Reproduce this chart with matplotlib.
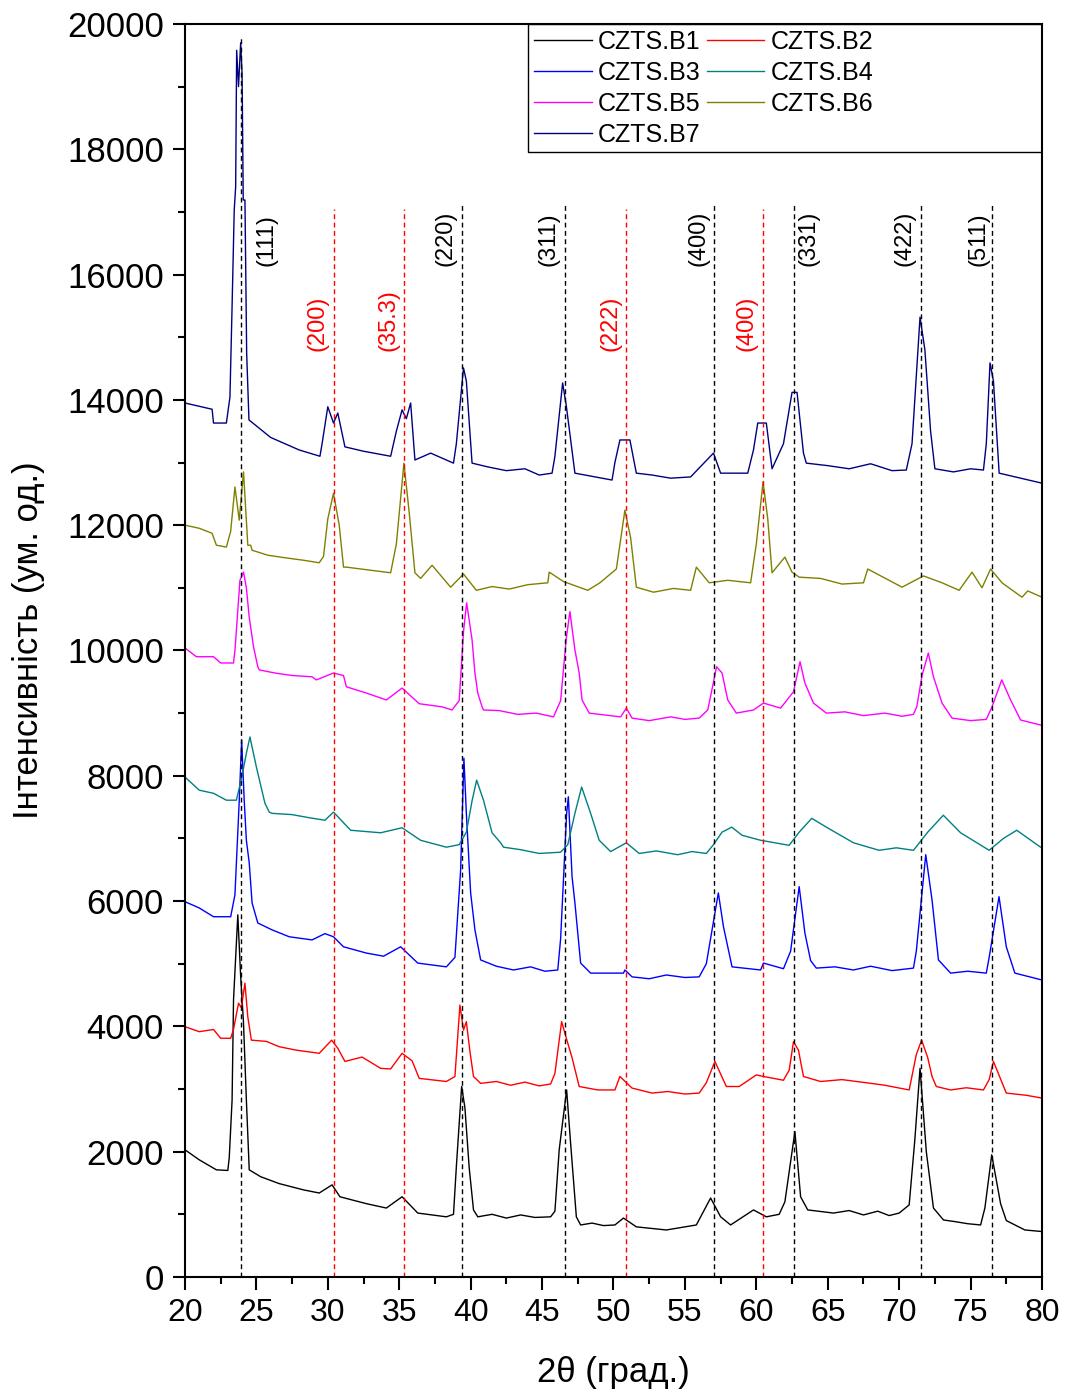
import matplotlib
matplotlib.use("Agg")
import matplotlib.pyplot as plt
from matplotlib.ticker import MultipleLocator
from matplotlib.patches import Rectangle

plt.rcParams["font.family"] = ["Liberation Sans", "DejaVu Sans"]

# ============================================
# 1. Data (2theta, intensity)
#    (extra baseline readings are appended at the end of each list)
# ============================================

b1_pts = [(20, 2030), (21, 1870), (22.2, 1710), (23.0, 1700), (23.1, 1900), (23.3, 2825),
          (23.4, 4420), (23.55, 5100), (23.7, 5780), (23.9, 4800), (24.1, 4050), (24.3, 2825),
          (24.5, 1710), (25.3, 1600), (26.6, 1490), (28.3, 1390), (29.4, 1340), (30.3, 1470),
          (30.85, 1280), (32.7, 1170), (34.1, 1100), (35.2, 1280), (36.3, 1020), (38.3, 960),
          (38.8, 1000), (39.0, 1760), (39.37, 3040), (39.6, 2700), (39.9, 1740), (40.2, 1070),
          (40.5, 960), (45.6, 960), (45.9, 1050), (46.2, 2030), (46.72, 2985), (47.0, 2130),
          (47.4, 960), (47.7, 830), (50.1, 830), (50.7, 940), (51.6, 800), (53.7, 750),
          (55.8, 830), (56.8, 1260), (57.5, 960), (58.2, 830), (59.8, 1070), (60.7, 960),
          (61.6, 1000), (62.0, 1200), (62.7, 2320), (63.1, 1280), (63.6, 1070), (65.4, 1020),
          (70.0, 1020), (70.7, 1150), (71.1, 2200), (71.46, 3330), (71.9, 2000), (72.4, 1100),
          (73.1, 910), (75.7, 830), (76.0, 1100), (76.48, 1950), (77.1, 1170), (77.5, 900),
          (78.8, 750), (80, 725),
          (41.5, 1000), (42.5, 940), (43.5, 990), (44.5, 950), (48.5, 860), (49.3, 820),
          (66.5, 1060), (67.5, 990), (68.5, 1050), (69.3, 980), (74.0, 880), (74.8, 850)]

b2_pts = [(20, 3995), (21, 3915), (22, 3950), (22.5, 3810), (23.2, 3810), (23.4, 3950),
          (23.75, 4370), (23.95, 4300), (24.2, 4690), (24.4, 4150), (24.65, 3780), (25.7, 3760),
          (26.6, 3675), (27.8, 3620), (29.4, 3570), (30.27, 3780), (30.7, 3650), (31.2, 3440),
          (32.4, 3510), (33.7, 3330), (34.4, 3320), (35.2, 3570), (35.9, 3450), (36.4, 3170),
          (38.3, 3120), (38.9, 3200), (39.25, 4340), (39.5, 3940), (39.7, 4075), (39.95, 3600),
          (40.2, 3200), (40.7, 3090), (45.6, 3080), (45.9, 3250), (46.37, 4075), (46.7, 3810),
          (47.1, 3500), (47.6, 3040), (48.9, 2985), (50.1, 2985), (50.45, 3200), (51.3, 3015),
          (52.7, 2935), (56.0, 2935), (56.5, 3100), (57.1, 3440), (57.9, 3040), (58.8, 3040),
          (60.0, 3225), (60.5, 3200), (61.9, 3140), (62.3, 3300), (62.6, 3755), (62.95, 3620),
          (63.3, 3200), (64.5, 3120), (67.7, 3100), (70.7, 2985), (71.2, 3550), (71.57, 3780),
          (72.0, 3500), (72.3, 3200), (72.6, 3040), (73.6, 2985), (75.9, 2985), (76.3, 3150),
          (76.6, 3440), (77.5, 2935), (78.9, 2900), (80, 2855),
          (41.8, 3120), (42.8, 3060), (43.8, 3110), (44.8, 3050), (53.8, 2960), (55.0, 2920),
          (66.0, 3150), (69.0, 3060), (74.7, 3020)]

b3_pts = [(20, 5990), (21, 5890), (22, 5750), (23.2, 5750), (23.5, 6100), (23.8, 7600),
          (23.97, 8570), (24.15, 7600), (24.3, 6970), (24.5, 6610), (24.7, 5970), (25.1, 5650),
          (26.1, 5540), (27.3, 5430), (28.9, 5380), (29.8, 5480), (30.4, 5430), (31.1, 5270),
          (32.7, 5170), (33.9, 5120), (35.1, 5270), (36.3, 5010), (38.3, 4950), (38.9, 5100),
          (39.3, 6500), (39.53, 8280), (39.7, 7400), (40.0, 6130), (40.3, 5540), (40.7, 5060),
          (46.1, 4900), (46.3, 5400), (46.72, 7400), (46.84, 7665), (47.1, 6390), (47.3, 5970),
          (47.7, 5010), (48.4, 4850), (50.7, 4850), (50.8, 4900), (51.3, 4790), (56.0, 4790),
          (56.5, 5000), (57.34, 6130), (57.7, 5590), (58.3, 4950), (60.3, 4900), (60.5, 5010),
          (61.9, 4920), (62.4, 5200), (63.0, 6230), (63.4, 5490), (63.8, 5050), (64.2, 4930),
          (71.0, 4930), (71.2, 5200), (71.86, 6740), (72.3, 6020), (72.75, 5060), (73.6, 4850),
          (76.1, 4850), (76.3, 5100), (76.99, 6070), (77.5, 5270), (78.1, 4850), (80, 4740),
          (41.8, 4960), (43.0, 4900), (44.2, 4950), (45.2, 4880), (52.5, 4760), (53.7, 4820),
          (55.0, 4780), (65.5, 4950), (66.8, 4900), (68.0, 4960), (69.5, 4890), (74.8, 4880)]

b4_pts = [(20, 7980), (21, 7770), (22, 7720), (22.9, 7610), (23.6, 7610), (24.0, 8000),
          (24.3, 8360), (24.55, 8620), (25.0, 8140), (25.6, 7560), (25.9, 7420), (26.1, 7400),
          (29.8, 7290), (30.4, 7420), (31.6, 7130), (33.7, 7090), (35.2, 7170), (36.5, 6970),
          (38.3, 6860), (39.2, 6900), (39.7, 7100), (40.1, 7600), (40.42, 7930), (40.9, 7610),
          (41.5, 7090), (42.1, 6930), (42.3, 6860), (46.3, 6780), (46.8, 6900), (47.3, 7400),
          (47.77, 7820), (48.4, 7400), (49.0, 6970), (49.8, 6790), (50.9, 6930), (51.8, 6760),
          (56.5, 6760), (57.0, 6900), (57.6, 7100), (58.28, 7180), (59.0, 7050), (60.3, 6970),
          (62.3, 6890), (63.0, 7100), (63.88, 7320), (64.9, 7180), (66.8, 6930), (68.6, 6810),
          (71.0, 6810), (72.0, 7100), (73.09, 7370), (74.3, 7090), (76.3, 6810), (77.3, 7000),
          (78.23, 7130), (79.9, 6860), (80, 6860),
          (27.5, 7380), (28.7, 7330), (43.5, 6820), (44.8, 6760), (53.0, 6800), (54.5, 6740),
          (55.5, 6790), (69.8, 6850)]

b5_pts = [(20, 10040), (20.8, 9900), (22.0, 9900), (22.5, 9800), (23.4, 9800), (23.5, 10000),
          (23.85, 11120), (24.1, 11250), (24.3, 11000), (24.5, 10530), (24.8, 10060), (25.1, 9740),
          (25.2, 9690), (28.9, 9580), (29.2, 9530), (30.4, 9640), (31.1, 9600), (31.3, 9420),
          (32.7, 9320), (34.1, 9210), (35.2, 9400), (36.4, 9150), (38.0, 9100), (38.7, 9050),
          (39.2, 9200), (39.5, 10300), (39.72, 10760), (40.1, 10170), (40.3, 9640), (40.5, 9320),
          (40.8, 9100), (40.9, 9050), (45.8, 8940), (46.3, 9200), (46.7, 10200), (46.95, 10620),
          (47.3, 10010), (47.6, 9640), (47.8, 9210), (48.3, 9000), (50.5, 8940), (50.9, 9080),
          (51.3, 8920), (56.0, 8920), (56.6, 9050), (57.22, 9740), (57.6, 9640), (58.0, 9210),
          (58.6, 9000), (59.8, 9050), (60.5, 9160), (61.7, 9080), (62.6, 9340), (63.06, 9820),
          (63.4, 9480), (64.0, 9160), (64.9, 9000), (71.0, 8980), (71.23, 9100), (71.6, 9600),
          (72.04, 9960), (72.4, 9580), (73.0, 9160), (73.7, 8920), (76.1, 8900), (76.5, 9100),
          (77.18, 9530), (77.8, 9210), (78.5, 8890), (79.9, 8810), (80, 8800),
          (26.3, 9640), (27.5, 9600), (42.0, 9040), (43.3, 8980), (44.6, 9000), (52.5, 8880),
          (54.0, 8940), (55.0, 8900), (66.2, 9020), (67.5, 8960), (69.0, 9000), (70.2, 8950),
          (75.0, 8880)]

b6_pts = [(20, 12000), (21, 11950), (21.9, 11870), (22.2, 11680), (22.9, 11650), (23.2, 11900),
          (23.5, 12610), (23.8, 12080), (24.1, 12850), (24.4, 11680), (24.6, 11680), (24.7, 11600),
          (29.4, 11400), (29.7, 11500), (30.0, 12100), (30.4, 12510), (30.8, 12000), (31.1, 11330),
          (31.3, 11330), (34.4, 11240), (34.8, 11700), (35.33, 12990), (35.7, 12200), (36.1, 11240),
          (36.5, 11150), (37.3, 11360), (38.6, 11010), (39.5, 11220), (40.4, 10960), (45.4, 11080),
          (45.5, 11250), (46.5, 11100), (48.2, 10960), (49.05, 11080), (50.2, 11300), (50.8, 12240),
          (51.2, 11800), (51.6, 11010), (55.4, 10960), (55.8, 11330), (56.7, 11080), (59.6, 11080),
          (60.0, 11700), (60.47, 12690), (60.8, 12100), (61.1, 11240), (62.0, 11490), (62.5, 11250),
          (63.0, 11170), (67.5, 11080), (67.8, 11300), (70.2, 11010), (71.7, 11190), (74.2, 10960),
          (75.1, 11250), (75.8, 11000), (76.4, 11300), (77.2, 11080), (78.6, 10850), (79.0, 10950),
          (80, 10850),
          (25.8, 11520), (27.0, 11480), (28.3, 11440), (41.5, 11020), (42.7, 10980), (44.0, 11050),
          (52.8, 10930), (54.2, 10990), (58.0, 11120), (64.5, 11150), (66.0, 11060), (73.0, 11080)]

b7_pts = [(20, 13950), (21.9, 13850), (22.0, 13630), (22.9, 13630), (23.15, 14045), (23.3, 15500),
          (23.45, 17030), (23.55, 17400), (23.62, 19580), (23.75, 19000), (23.9, 19700), (24.0, 19200),
          (24.08, 17190), (24.2, 17190), (24.32, 14750), (24.48, 13680), (26.0, 13400), (28.0, 13200),
          (29.45, 13100), (29.6, 13300), (30.0, 13890), (30.4, 13630), (30.7, 13790), (31.2, 13250),
          (34.4, 13100), (34.8, 13500), (35.2, 13840), (35.5, 13700), (35.8, 13950), (36.1, 13040),
          (37.2, 13150), (38.8, 12990), (39.0, 13300), (39.5, 14510), (39.7, 14300), (40.1, 12990),
          (45.7, 12830), (45.9, 13100), (46.44, 14270), (46.7, 13900), (47.3, 12830), (49.9, 12720),
          (50.1, 13000), (50.45, 13360), (51.15, 13360), (51.6, 12830), (55.4, 12770), (57.0, 13150),
          (57.5, 12830), (59.4, 12830), (59.8, 13200), (60.1, 13630), (60.7, 13630), (61.1, 12900),
          (61.9, 13300), (62.5, 14120), (62.85, 14120), (63.3, 13150), (63.5, 12990), (70.5, 12880),
          (70.9, 13300), (71.46, 15320), (71.8, 14800), (72.2, 13500), (72.5, 12900), (75.9, 12880),
          (76.1, 13300), (76.36, 14590), (76.6, 14300), (77.0, 12830), (80, 12670),
          (32.5, 13180), (41.2, 12930), (42.5, 12870), (43.8, 12900), (44.8, 12800), (52.7, 12800),
          (54.0, 12750), (65.0, 12950), (66.5, 12900), (68.0, 12980), (69.5, 12870), (73.8, 12850),
          (75.0, 12900), (78.5, 12750)]

names = ["CZTS.B1", "CZTS.B2", "CZTS.B3", "CZTS.B4", "CZTS.B5", "CZTS.B6", "CZTS.B7"]
colors = ["#000000", "#FF0000", "#0000FF", "#008080", "#FF00FF", "#808000", "#000080"]
series = [b1_pts, b2_pts, b3_pts, b4_pts, b5_pts, b6_pts, b7_pts]

# reference reflections
black_pos = [23.95, 39.4, 46.6, 57.05, 62.65, 71.5, 76.5]
black_lbl = ["(111)", "(220)", "(311)", "(400)", "(331)", "(422)", "(511)"]
black_top = [19780, 17110, 17110, 17110, 17110, 17110, 17110]
black_dx = [18, -12, -12, -11.5, 10.5, -11.5, -10]

red_pos = [30.4, 35.3, 50.85, 60.5]
red_lbl = ["(200)", "(35.3)", "(222)", "(400)"]
red_top = [17050, 17050, 17050, 17050]
red_dx = [-11.5, -11, -11, -12]

# ============================================
# 2. Figure
# ============================================

fig = plt.figure(figsize=(10.66, 13.93), dpi=100)
ax = fig.add_axes([0.1735, 0.0833, 0.804, 0.8995])

lines = []
for pts, name, col in zip(series, names, colors):
    pts = sorted(pts)
    xs = [p[0] for p in pts]
    ys = [p[1] for p in pts]
    ln, = ax.plot(xs, ys, color=col, lw=1.0, label=name)
    lines.append(ln)

for x, top, lbl, dx in zip(black_pos, black_top, black_lbl, black_dx):
    ax.vlines(x, 0, top, colors="#000000", linestyles=(0, (3.5, 2.5)), lw=1.0)
    ax.annotate(lbl, (x, 16135), xytext=(dx, 0), textcoords="offset points",
                rotation=90, ha="center", va="bottom", fontsize=17, color="black")

for x, top, lbl, dx in zip(red_pos, red_top, red_lbl, red_dx):
    ax.vlines(x, 0, top, colors="#FF0000", linestyles=(0, (3.5, 2.5)), lw=1.0)
    ax.annotate(lbl, (x, 14780), xytext=(dx, 0), textcoords="offset points",
                rotation=90, ha="center", va="bottom", fontsize=17, color="#FF0000")

ax.set_xlim(20, 80)
ax.set_ylim(0, 20000)
ax.xaxis.set_major_locator(MultipleLocator(5))
ax.xaxis.set_minor_locator(MultipleLocator(2.5))
ax.yaxis.set_major_locator(MultipleLocator(2000))
ax.yaxis.set_minor_locator(MultipleLocator(1000))

ax.tick_params(which="major", direction="out", length=9, width=1.5)
ax.tick_params(which="minor", direction="out", length=5, width=1.5)
ax.tick_params(axis="x", labelsize=23, pad=6)
ax.tick_params(axis="y", labelsize=25, pad=6)
for s in ax.spines.values():
    s.set_linewidth(1.5)

ax.set_xlabel("2θ (град.)", fontsize=25)
ax.xaxis.set_label_coords(0.4995, -0.063)
ax.set_ylabel("Інтенсивність (ум. од.)", fontsize=25)
ax.yaxis.set_label_coords(-0.163, 0.508)

# legend: rows B1 B2 / B3 B4 / B5 B6 / B7
order = [0, 2, 4, 6, 1, 3, 5]
leg = ax.legend([lines[i] for i in order], [names[i] for i in order],
                ncol=2, loc="upper left", bbox_to_anchor=(0.4, 1.0),
                frameon=False, fontsize=18, handlelength=2.3,
                handletextpad=0.25, columnspacing=0.25, labelspacing=0.28,
                borderpad=0.25, borderaxespad=0)
ax.add_patch(Rectangle((0.4, 0.8978), 0.6, 0.1022, transform=ax.transAxes,
                       fill=False, edgecolor="black", lw=1.0, zorder=5))

plt.savefig("out.png", dpi=100)
